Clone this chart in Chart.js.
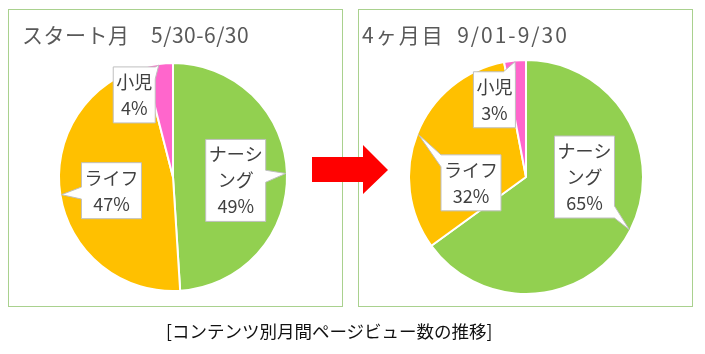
<!DOCTYPE html>
<html>
<head>
<meta charset="utf-8">
<script src="https://cdn.jsdelivr.net/npm/chart.js@4"></script>
<style>
  body { margin: 0; width: 705px; height: 354px; background: #fff; position: relative; overflow: hidden;
         font-family: "Noto Sans CJK JP", sans-serif; }
  .box { position: absolute; top: 9px; width: 333px; height: 296px; border: 1px solid #a9d18e; }
  .box canvas { position: absolute; left: 0; top: 0; }
  #arrow { position: absolute; left: 0; top: 0; }
  #caption { position: absolute; left: 166px; top: 318px; font-size: 17.5px; color: #111; white-space: nowrap; }
</style>
</head>
<body>
<div class="box" style="left:8px"><canvas id="chartStart" width="333" height="296"></canvas></div>
<div class="box" style="left:358px"><canvas id="chartMonth4" width="333" height="296"></canvas></div>
<svg id="arrow" width="705" height="354">
  <polygon points="312,157 363,157 363,145 388,170 363,194 363,182 312,182" fill="#ff0000"/>
</svg>
<div id="caption">[コンテンツ別月間ページビュー数の推移]</div>

<script>
// カテゴリ
const categories = ['ナーシング', 'ライフ', '小児'];
const colors = ['#92d050', '#ffc000', '#ff66cc'];

// スタート月 5/30-6/30
const startTitle = 'スタート月　5/30-6/30';
const startValues = [49, 47, 4];

// 4ヶ月目 9/01-9/30
const month4Title = '4ヶ月目\u20029/01-9/30';
const month4Values = [65, 32, 3];

// ラベル位置（円の中心からの位置、半径の倍数）
const startLabelPos = [[0.55, 0.03], [-0.54, 0.12], [-0.34, -0.72]];
const month4LabelPos = [[0.50, 0.0], [-0.47, 0.05], [-0.27, -0.66]];

function wrapText(ctx, text, maxW) {
    const lines = [];
    let cur = '';
    for (const ch of text) {
        if (cur && ctx.measureText(cur + ch).width > maxW) {
            lines.push(cur);
            cur = ch;
        } else {
            cur += ch;
        }
    }
    if (cur) lines.push(cur);
    return lines;
}

const calloutPlugin = {
    id: 'callout',
    afterDatasetsDraw(chart, args, opts) {
        const ctx = chart.ctx;
        const meta = chart.getDatasetMeta(0);
        const data = chart.data.datasets[0].data;
        const total = data.reduce((a, b) => a + b, 0);
        ctx.save();
        ctx.font = '18px "Noto Sans CJK JP", sans-serif';
        meta.data.forEach((arc, i) => {
            const p = arc.getProps(['x', 'y', 'startAngle', 'endAngle', 'outerRadius'], true);
            const mid = (p.startAngle + p.endAngle) / 2;
            const tipX = p.x + Math.cos(mid) * p.outerRadius * 0.99;
            const tipY = p.y + Math.sin(mid) * p.outerRadius * 0.99;
            const cx = p.x + opts.pos[i][0] * p.outerRadius;
            const cy = p.y + opts.pos[i][1] * p.outerRadius;

            const lines = wrapText(ctx, chart.data.labels[i], 56);
            lines.push(Math.round(data[i] / total * 100) + '%');
            const lh = 26;
            let tw = 0;
            lines.forEach(l => { tw = Math.max(tw, ctx.measureText(l).width); });
            const w = tw + 6, h = lines.length * lh + 4;
            const L = cx - w / 2, R = cx + w / 2, T = cy - h / 2, B = cy + h / 2;

            // which side the pointer leaves from
            const dx = tipX - cx, dy = tipY - cy;
            const half = 6;
            const pts = [];
            const clamp = (v, a, b) => Math.max(a + half, Math.min(b - half, v));
            if (Math.abs(dx) / w > Math.abs(dy) / h) {
                const yy = clamp(cy + dy * (w / 2) / Math.abs(dx), T, B);
                if (dx > 0) pts.push([L, T], [R, T], [R, yy - half], [tipX, tipY], [R, yy + half], [R, B], [L, B]);
                else pts.push([L, T], [R, T], [R, B], [L, B], [L, yy + half], [tipX, tipY], [L, yy - half]);
            } else {
                const xx = clamp(cx + dx * (h / 2) / Math.abs(dy), L, R);
                if (dy < 0) pts.push([L, T], [xx - half, T], [tipX, tipY], [xx + half, T], [R, T], [R, B], [L, B]);
                else pts.push([L, T], [R, T], [R, B], [xx + half, B], [tipX, tipY], [xx - half, B], [L, B]);
            }
            ctx.beginPath();
            pts.forEach((q, k) => k ? ctx.lineTo(q[0], q[1]) : ctx.moveTo(q[0], q[1]));
            ctx.closePath();
            ctx.fillStyle = '#ffffff';
            ctx.fill();
            ctx.strokeStyle = '#bfbfbf';
            ctx.lineWidth = 1;
            ctx.stroke();

            ctx.fillStyle = '#404040';
            ctx.textAlign = 'center';
            ctx.textBaseline = 'middle';
            lines.forEach((l, k) => {
                ctx.fillText(l, cx, T + 2 + lh * k + lh / 2);
            });
        });
        ctx.restore();
    }
};

const titlePlugin = {
    id: 'boxTitle',
    afterDraw(chart, args, opts) {
        const ctx = chart.ctx;
        ctx.save();
        ctx.font = '21px "Noto Sans CJK JP", sans-serif';
        ctx.letterSpacing = opts.spacing;
        ctx.fillStyle = '#595959';
        ctx.textAlign = 'left';
        ctx.textBaseline = 'middle';
        ctx.fillText(opts.text, opts.x, opts.y);
        ctx.restore();
    }
};

function makePie(id, title, values, pos, padding, titleX, spacing) {
    new Chart(document.getElementById(id), {
        type: 'pie',
        data: {
            labels: categories,
            datasets: [{
                data: values,
                backgroundColor: colors,
                borderColor: '#ffffff',
                borderWidth: 2
            }]
        },
        options: {
            responsive: false,
            animation: false,
            rotation: 0,
            layout: { padding: padding },
            plugins: {
                legend: { display: false },
                tooltip: { enabled: false },
                title: { display: false },
                callout: { pos: pos },
                boxTitle: { text: title, x: titleX, y: 25, spacing: spacing }
            }
        },
        plugins: [calloutPlugin, titlePlugin]
    });
}

makePie('chartStart', startTitle, startValues, startLabelPos,
    { left: 49, right: 54, top: 52, bottom: 14 }, 13, '0.5px');
makePie('chartMonth4', month4Title, month4Values, month4LabelPos,
    { left: 49, right: 48, top: 49, bottom: 11 }, 3, '2px');
</script>
</body>
</html>
